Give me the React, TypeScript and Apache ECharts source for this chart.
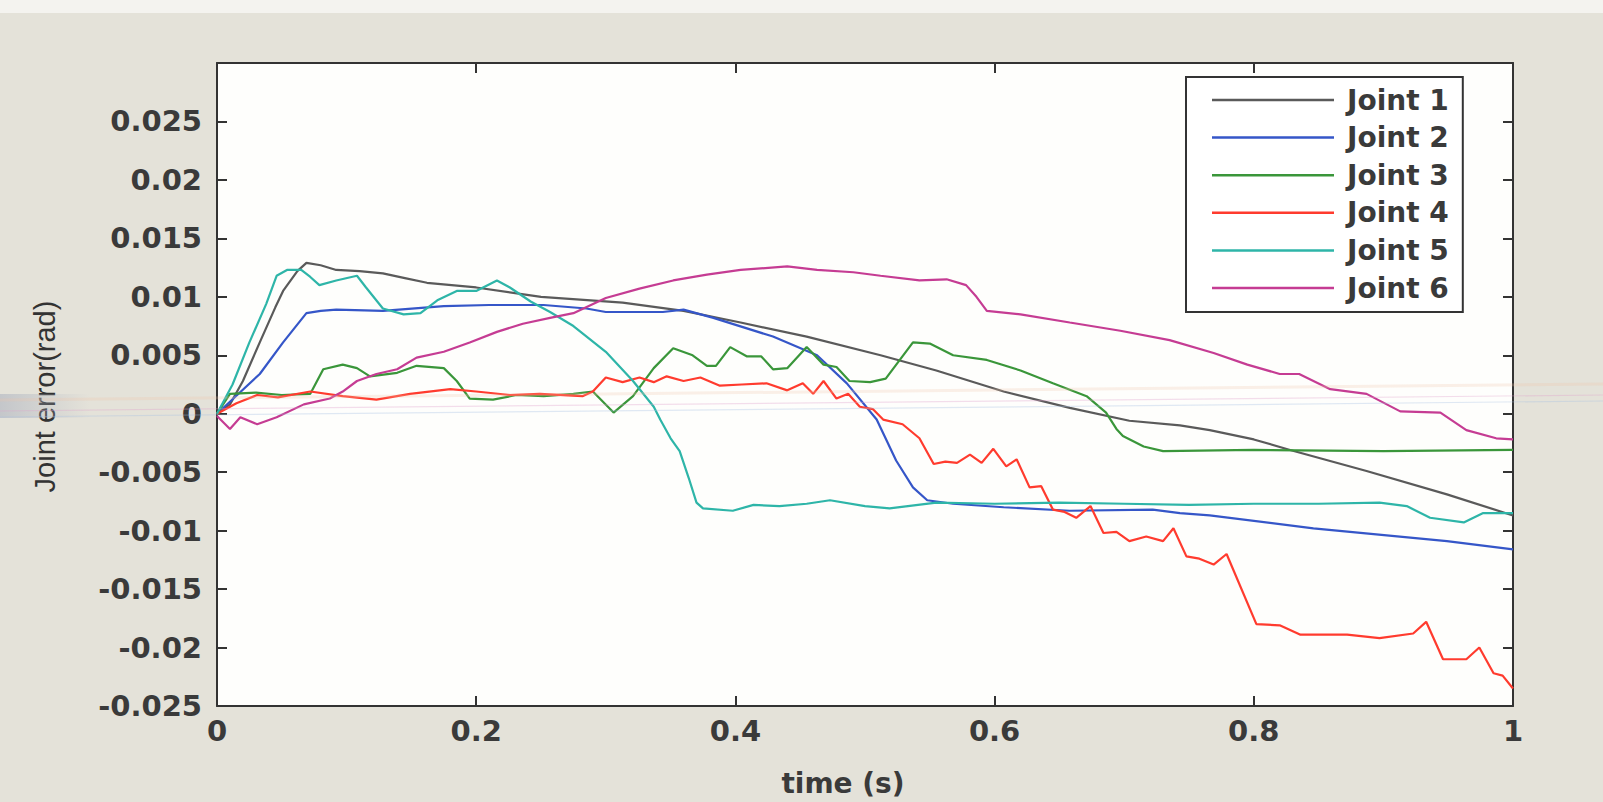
import React, { useEffect, useRef } from 'react';
import * as echarts from 'echarts';

const seriesNames = ['Joint 1', 'Joint 2', 'Joint 3', 'Joint 4', 'Joint 5', 'Joint 6'];
const seriesColors = ['#5a5a5a', '#3556c8', '#3a963a', '#ff3b2e', '#2eb5a8', '#c53c93'];

const joint1 = [
  [0, 0], [0.01, 0.0008], [0.02, 0.0028], [0.033, 0.0061], [0.045, 0.0091], [0.051, 0.0105],
  [0.062, 0.0122], [0.069, 0.0129], [0.08, 0.0127], [0.092, 0.0123], [0.11, 0.0122], [0.128, 0.012],
  [0.145, 0.0116], [0.162, 0.0112], [0.2, 0.0108], [0.25, 0.01], [0.313, 0.0095], [0.36, 0.0088],
  [0.404, 0.0078], [0.455, 0.0066], [0.512, 0.005], [0.555, 0.0037], [0.607, 0.0019], [0.658, 0.0005],
  [0.704, -0.0006], [0.743, -0.001], [0.766, -0.0014], [0.8, -0.0022], [0.828, -0.0031], [0.887, -0.0049],
  [0.949, -0.0069], [1, -0.0087],
];

const joint2 = [
  [0, 0], [0.033, 0.0034], [0.051, 0.0061], [0.069, 0.0086], [0.08, 0.0088], [0.092, 0.0089],
  [0.128, 0.0088], [0.175, 0.0092], [0.21, 0.0093], [0.252, 0.0093], [0.285, 0.009], [0.3, 0.0087],
  [0.344, 0.0087], [0.36, 0.0089], [0.383, 0.0082], [0.429, 0.0066], [0.463, 0.005], [0.486, 0.0026],
  [0.509, -0.0005], [0.524, -0.004], [0.537, -0.0063], [0.548, -0.0074], [0.568, -0.0077], [0.607, -0.008],
  [0.658, -0.0083], [0.722, -0.0082], [0.743, -0.0085], [0.766, -0.0087], [0.846, -0.0098], [0.949, -0.0109],
  [1, -0.0116],
];

const joint3 = [
  [0, 0], [0.01, 0.0017], [0.03, 0.0018], [0.05, 0.0016], [0.072, 0.0017], [0.082, 0.0038],
  [0.097, 0.0042], [0.108, 0.0039], [0.118, 0.0032], [0.139, 0.0035], [0.154, 0.0041], [0.175, 0.0039],
  [0.185, 0.0028], [0.195, 0.0013], [0.213, 0.0012], [0.231, 0.0016], [0.252, 0.0015], [0.275, 0.0017],
  [0.29, 0.0019], [0.306, 0.0001], [0.321, 0.0015], [0.337, 0.0039], [0.352, 0.0056], [0.367, 0.005],
  [0.378, 0.0041], [0.385, 0.0041], [0.396, 0.0057], [0.409, 0.0049], [0.42, 0.0049], [0.429, 0.0038],
  [0.44, 0.0039], [0.455, 0.0057], [0.468, 0.0042], [0.478, 0.004], [0.488, 0.0028], [0.504, 0.0027],
  [0.516, 0.003], [0.537, 0.0061], [0.55, 0.006], [0.568, 0.005], [0.594, 0.0046], [0.62, 0.0037],
  [0.645, 0.0026], [0.671, 0.0015], [0.686, 0.0001], [0.694, -0.0013], [0.699, -0.0019], [0.715, -0.0028],
  [0.73, -0.0032], [0.8, -0.0031], [0.9, -0.0032], [1, -0.0031],
];

const joint4 = [
  [0, 0], [0.015, 0.0009], [0.031, 0.0016], [0.047, 0.0014], [0.072, 0.0019], [0.097, 0.0015],
  [0.123, 0.0012], [0.149, 0.0017], [0.18, 0.0021], [0.2, 0.0019], [0.226, 0.0016], [0.249, 0.0017],
  [0.282, 0.0015], [0.29, 0.0019], [0.3, 0.0031], [0.313, 0.0027], [0.326, 0.0031], [0.337, 0.0027],
  [0.347, 0.0032], [0.36, 0.0028], [0.373, 0.0031], [0.388, 0.0024], [0.405, 0.0025], [0.424, 0.0026],
  [0.44, 0.002], [0.452, 0.0026], [0.46, 0.0017], [0.468, 0.0028], [0.478, 0.0013], [0.487, 0.0017],
  [0.496, 0.0006], [0.506, 0.0004], [0.514, -0.0005], [0.529, -0.0009], [0.542, -0.0021], [0.553, -0.0043],
  [0.562, -0.0041], [0.571, -0.0042], [0.581, -0.0035], [0.59, -0.0042], [0.599, -0.003], [0.609, -0.0045],
  [0.617, -0.0039], [0.627, -0.0063], [0.636, -0.0062], [0.645, -0.0082], [0.654, -0.0084], [0.663, -0.0089],
  [0.674, -0.0079], [0.684, -0.0102], [0.694, -0.0101], [0.704, -0.0109], [0.717, -0.0105], [0.73, -0.0109],
  [0.738, -0.0098], [0.748, -0.0122], [0.758, -0.0124], [0.769, -0.0129], [0.779, -0.012], [0.802, -0.018],
  [0.82, -0.0181], [0.836, -0.0189], [0.872, -0.0189], [0.897, -0.0192], [0.923, -0.0188], [0.933, -0.0178],
  [0.946, -0.021], [0.964, -0.021], [0.974, -0.02], [0.985, -0.0222], [0.992, -0.0224], [1, -0.0235],
];

const joint5 = [
  [0, 0], [0.012, 0.0025], [0.025, 0.0061], [0.038, 0.0094], [0.046, 0.0118], [0.054, 0.0123],
  [0.065, 0.0123], [0.072, 0.0117], [0.079, 0.011], [0.092, 0.0114], [0.108, 0.0118], [0.115, 0.0108],
  [0.128, 0.009], [0.144, 0.0085], [0.157, 0.0086], [0.17, 0.0097], [0.185, 0.0105], [0.2, 0.0105],
  [0.216, 0.0114], [0.226, 0.0108], [0.242, 0.0096], [0.257, 0.0087], [0.275, 0.0075], [0.3, 0.0053],
  [0.321, 0.0028], [0.337, 0.0006], [0.342, -0.0005], [0.35, -0.0021], [0.357, -0.0032], [0.364, -0.0055],
  [0.37, -0.0076], [0.375, -0.0081], [0.398, -0.0083], [0.414, -0.0078], [0.434, -0.0079], [0.455, -0.0077],
  [0.473, -0.0074], [0.5, -0.0079], [0.519, -0.0081], [0.555, -0.0076], [0.6, -0.0077], [0.65, -0.0076],
  [0.7, -0.0077], [0.75, -0.0078], [0.8, -0.0077], [0.85, -0.0077], [0.897, -0.0076], [0.918, -0.0079],
  [0.936, -0.0089], [0.962, -0.0093], [0.977, -0.0085], [1, -0.0085],
];

const joint6 = [
  [0, -0.0002], [0.01, -0.0013], [0.018, -0.0003], [0.031, -0.0009], [0.046, -0.0003], [0.067, 0.0008],
  [0.087, 0.0013], [0.097, 0.0019], [0.108, 0.0028], [0.123, 0.0034], [0.139, 0.0038], [0.154, 0.0048],
  [0.175, 0.0053], [0.195, 0.0061], [0.216, 0.007], [0.236, 0.0077], [0.257, 0.0082], [0.275, 0.0086],
  [0.3, 0.0099], [0.326, 0.0107], [0.352, 0.0114], [0.378, 0.0119], [0.404, 0.0123], [0.44, 0.0126],
  [0.463, 0.0123], [0.491, 0.0121], [0.512, 0.0118], [0.542, 0.0114], [0.563, 0.0115], [0.578, 0.011],
  [0.586, 0.01], [0.594, 0.0088], [0.62, 0.0085], [0.658, 0.0078], [0.697, 0.0071], [0.735, 0.0063],
  [0.769, 0.0052], [0.795, 0.0042], [0.82, 0.0034], [0.835, 0.0034], [0.859, 0.0021], [0.887, 0.0017],
  [0.913, 0.0002], [0.944, 0.0001], [0.964, -0.0014], [0.987, -0.0021], [1, -0.0022],
];

const seriesData = [joint1, joint2, joint3, joint4, joint5, joint6];

const labelFont = {
  fontFamily: 'DejaVu Sans',
  fontWeight: 'bold' as const,
  fontSize: 29,
  color: '#3a3a3a',
};

const axisLineStyle = { color: '#333333', width: 2 };

export default function App() {
  const ref = useRef<HTMLDivElement>(null);

  useEffect(() => {
    document.body.style.margin = '0';
    const chart = echarts.init(ref.current!, null, { renderer: 'svg' });
    const option = {
      animation: false,
      backgroundColor: '#e4e2d9',
      graphic: [
        { type: 'rect', shape: { x: 0, y: 0, width: 1603, height: 13 }, style: { fill: '#f4f3ef' }, z: -10 },
        {
          type: 'rect',
          shape: { x: 0, y: 394, width: 90, height: 24 },
          style: {
            fill: new echarts.graphic.LinearGradient(0, 0, 1, 0, [
              { offset: 0, color: 'rgba(170,176,190,0.55)' },
              { offset: 1, color: 'rgba(170,176,190,0)' },
            ]),
          },
          z: 100,
        },
        { type: 'line', shape: { x1: 0, y1: 400, x2: 1603, y2: 384 }, style: { stroke: '#f0c4a8', lineWidth: 3, opacity: 0.25 }, z: 100 },
        { type: 'line', shape: { x1: 0, y1: 411, x2: 1603, y2: 395 }, style: { stroke: '#e0a0cc', lineWidth: 1.2, opacity: 0.35 }, z: 100 },
        { type: 'line', shape: { x1: 0, y1: 417, x2: 1603, y2: 401 }, style: { stroke: '#a6c0e2', lineWidth: 1.2, opacity: 0.35 }, z: 100 },
      ],
      grid: {
        left: 217,
        top: 63,
        width: 1296,
        height: 664,
        show: true,
        backgroundColor: '#fefefc',
        borderWidth: 0,
      },
      legend: {
        orient: 'vertical',
        left: 1186,
        top: 77,
        width: 298,
        padding: [9, 14, 10, 26],
        icon: 'rect',
        itemWidth: 122,
        itemHeight: 2.5,
        itemGap: 9.6,
        backgroundColor: '#ffffff',
        borderColor: '#333333',
        borderWidth: 2,
        borderRadius: 0,
        textStyle: { ...labelFont, fontSize: 28, lineHeight: 28, padding: [0, 0, 0, 8] },
        data: seriesNames,
      },
      xAxis: [
        {
          type: 'value',
          min: 0,
          max: 1,
          interval: 0.2,
          position: 'bottom',
          name: 'time (s)',
          nameLocation: 'middle',
          nameGap: 63,
          nameTextStyle: { ...labelFont, fontSize: 28, padding: [0, 44, 0, 0] },
          axisLine: { show: true, onZero: false, lineStyle: axisLineStyle },
          axisTick: { show: true, inside: true, length: 10, lineStyle: axisLineStyle },
          axisLabel: {
            ...labelFont,
            margin: 10,
            formatter: (v: number) => String(parseFloat(v.toFixed(1))),
          },
          splitLine: { show: false },
        },
        {
          type: 'value',
          min: 0,
          max: 1,
          interval: 0.2,
          position: 'top',
          axisLine: { show: true, onZero: false, lineStyle: axisLineStyle },
          axisTick: { show: true, inside: true, length: 10, lineStyle: axisLineStyle },
          axisLabel: { show: false },
          splitLine: { show: false },
        },
      ],
      yAxis: [
        {
          type: 'value',
          min: -0.025,
          max: 0.03,
          interval: 0.005,
          position: 'left',
          name: 'Joint error(rad)',
          nameLocation: 'middle',
          nameRotate: 90,
          nameGap: 158,
          nameTextStyle: { fontFamily: 'Liberation Sans', fontSize: 29, color: '#333333', padding: [0, 24, 0, 0] },
          axisLine: { show: true, onZero: false, lineStyle: axisLineStyle },
          axisTick: { show: true, inside: true, length: 10, lineStyle: axisLineStyle },
          axisLabel: {
            ...labelFont,
            margin: 15,
            formatter: (v: number) => (v > 0.0276 ? '' : String(parseFloat(v.toFixed(3)))),
          },
          splitLine: { show: false },
        },
        {
          type: 'value',
          min: -0.025,
          max: 0.03,
          interval: 0.005,
          position: 'right',
          axisLine: { show: true, onZero: false, lineStyle: axisLineStyle },
          axisTick: { show: true, inside: true, length: 10, lineStyle: axisLineStyle },
          axisLabel: { show: false },
          splitLine: { show: false },
        },
      ],
      series: seriesNames.map((name, i) => ({
        name,
        type: 'line',
        xAxisIndex: 0,
        yAxisIndex: 0,
        data: seriesData[i],
        symbol: 'none',
        showSymbol: false,
        lineStyle: { color: seriesColors[i], width: 2.2 },
        itemStyle: { color: seriesColors[i] },
        z: 5,
      })),
    };
    chart.setOption(option as any);
    return () => chart.dispose();
  }, []);

  return <div ref={ref} style={{ width: 1603, height: 802 }} />;
}
